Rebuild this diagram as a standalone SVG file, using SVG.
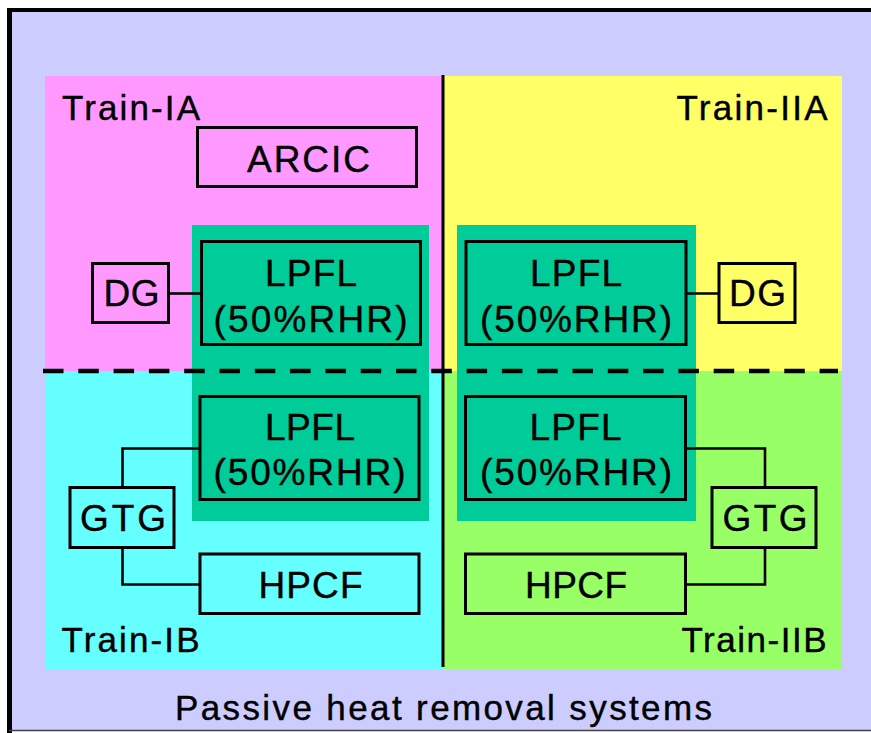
<svg xmlns="http://www.w3.org/2000/svg" width="871" height="733" viewBox="0 0 871 733">
<style>
text{font-family:"Liberation Sans",Arial,sans-serif;fill:#000;stroke:#000;stroke-width:0.4;text-anchor:middle}
.bx{font-size:37px}
.tr{font-size:35px}
.ttl{font-size:35px}
.box{stroke:#000;stroke-width:3}
.con{fill:none;stroke:#000;stroke-width:2.6}
</style>
<rect x="0" y="0" width="871" height="733" fill="#fff"/>
<rect x="9.5" y="10" width="862" height="721" fill="#ccccff"/>
<line x1="7" y1="10" x2="871" y2="10" stroke="#000" stroke-width="4"/>
<line x1="9.5" y1="8" x2="9.5" y2="733" stroke="#000" stroke-width="5"/>
<line x1="9" y1="730.5" x2="871" y2="730.5" stroke="#444" stroke-width="1.5"/>
<g id="quadrants">
<rect x="45" y="76" width="398" height="295" fill="#ff99ff"/>
<rect x="443" y="76" width="399" height="295" fill="#ffff66"/>
<rect x="45" y="371" width="398" height="298" fill="#66ffff"/>
<rect x="443" y="371" width="399" height="298" fill="#99ff66"/>
<rect x="192" y="225" width="237" height="296" fill="#00cc99"/>
<rect x="457" y="225" width="239" height="296" fill="#00cc99"/>
<line x1="43" y1="371" x2="838" y2="371" stroke="#000" stroke-width="4.5" stroke-dasharray="20.5 14.8"/>
<line x1="443" y1="75" x2="443" y2="667" stroke="#000" stroke-width="3"/>
</g>
<g id="labels">
<text class="tr" x="131" y="120" textLength="138" lengthAdjust="spacing">Train-IA</text>
<text class="tr" x="752" y="120" textLength="151" lengthAdjust="spacing">Train-IIA</text>
<text class="tr" x="130.5" y="652" textLength="138" lengthAdjust="spacing">Train-IB</text>
<text class="tr" x="754" y="652" textLength="145" lengthAdjust="spacing">Train-IIB</text>
<text class="ttl" x="443.5" y="720" textLength="537" lengthAdjust="spacing">Passive heat removal systems</text>
</g>
<g id="connectors">
<line class="con" x1="169" y1="293.5" x2="201" y2="293.5"/>
<line class="con" x1="686" y1="293.5" x2="719" y2="293.5"/>
<polyline class="con" points="200,448.5 122.5,448.5 122.5,487"/>
<polyline class="con" points="122.5,548 122.5,584.5 200,584.5"/>
<polyline class="con" points="686,448.5 765,448.5 765,487"/>
<polyline class="con" points="765,548 765,584.5 686,584.5"/>
</g>
<g id="arcic">
<rect class="box" x="197.5" y="127.5" width="219" height="59" fill="#ff99ff"/>
<text class="bx" x="308.5" y="172" textLength="123" lengthAdjust="spacing">ARCIC</text>
</g>
<g id="dg-ia">
<rect class="box" x="92.5" y="263.5" width="76" height="59" fill="#ff99ff"/>
<text class="bx" x="131.5" y="306" textLength="56" lengthAdjust="spacing">DG</text>
</g>
<g id="lpfl-ia">
<rect class="box" x="201.5" y="241.5" width="219" height="103" fill="#00cc99"/>
<text class="bx" x="311" y="286" textLength="92" lengthAdjust="spacing">LPFL</text>
<text class="bx" x="310.5" y="332" textLength="194" lengthAdjust="spacing">(50%RHR)</text>
</g>
<g id="lpfl-iia">
<rect class="box" x="466" y="241.5" width="220" height="103" fill="#00cc99"/>
<text class="bx" x="576" y="286" textLength="92" lengthAdjust="spacing">LPFL</text>
<text class="bx" x="576" y="332" textLength="192" lengthAdjust="spacing">(50%RHR)</text>
</g>
<g id="dg-iia">
<rect class="box" x="719" y="263.5" width="76" height="59" fill="#ffff66"/>
<text class="bx" x="757.5" y="306" textLength="57" lengthAdjust="spacing">DG</text>
</g>
<g id="lpfl-ib">
<rect class="box" x="200" y="396.5" width="219" height="103" fill="#00cc99"/>
<text class="bx" x="310" y="440" textLength="90" lengthAdjust="spacing">LPFL</text>
<text class="bx" x="309.5" y="485" textLength="192" lengthAdjust="spacing">(50%RHR)</text>
</g>
<g id="gtg-ib">
<rect class="box" x="70" y="487.5" width="104" height="60" fill="#66ffff"/>
<text class="bx" x="123" y="531" textLength="86" lengthAdjust="spacing">GTG</text>
</g>
<g id="hpcf-ib">
<rect class="box" x="200" y="554" width="219" height="59.5" fill="#66ffff"/>
<text class="bx" x="310.5" y="597.5" textLength="104" lengthAdjust="spacing">HPCF</text>
</g>
<g id="lpfl-iib">
<rect class="box" x="465.5" y="396.5" width="220" height="103" fill="#00cc99"/>
<text class="bx" x="575.5" y="440" textLength="92" lengthAdjust="spacing">LPFL</text>
<text class="bx" x="576" y="485" textLength="192" lengthAdjust="spacing">(50%RHR)</text>
</g>
<g id="gtg-iib">
<rect class="box" x="712" y="487.5" width="104" height="60" fill="#99ff66"/>
<text class="bx" x="765" y="531" textLength="85" lengthAdjust="spacing">GTG</text>
</g>
<g id="hpcf-iib">
<rect class="box" x="465.5" y="554" width="220" height="59.5" fill="#99ff66"/>
<text class="bx" x="576" y="597.5" textLength="102" lengthAdjust="spacing">HPCF</text>
</g>
</svg>
